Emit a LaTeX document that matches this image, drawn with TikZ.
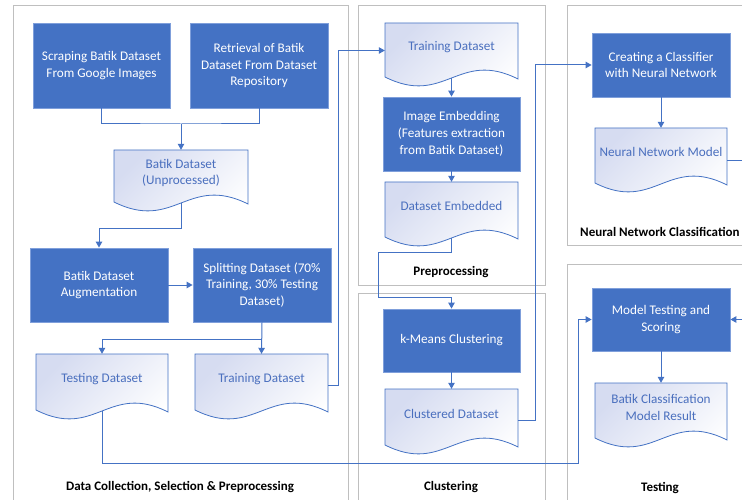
\documentclass[tikz,border=0pt]{standalone}
\usepackage{fontspec}
\setmainfont{Carlito}
\usetikzlibrary{arrows.meta,calc}
\definecolor{boxblue}{HTML}{4472C4}
\definecolor{boxborder}{HTML}{7F9FDB}
\definecolor{linkblue}{HTML}{4472C4}
\definecolor{doctextc}{HTML}{4A6FBE}
\definecolor{doctop}{HTML}{D6DCF1}
\definecolor{panelgrey}{HTML}{BFBFBF}
\tikzset{
  panel/.style={draw=panelgrey, line width=1bp},
  paneltitle/.style={font=\fontsize{13bp}{15bp}\selectfont\bfseries, text=black, inner sep=0pt},
  bluebox/.style={fill=boxblue, draw=boxborder, line width=0.8bp, text=white, align=center, inner sep=0pt,
    font=\fontsize{13.2bp}{16.7bp}\selectfont},
  docarea/.style={draw=none, inner sep=0pt},
  doctext/.style={text=doctextc, align=center, inner sep=0pt, font=\fontsize{13.2bp}{16.7bp}\selectfont},
  docline/.style={draw=linkblue, line width=0.8bp},
  link/.style={draw=linkblue, line width=1bp},
  arr/.style={link, -{Triangle[length=6bp,width=6.5bp]}},
}
% name, x1, y1, x2, y2, text
\newcommand\boxnode[6]{%
  \node[bluebox, minimum width={(#4-#2)*1bp}, minimum height={(#5-#3)*1bp}] (#1) at ({(#2+#4)/2},{(#3+#5)/2}) {#6};
}
% name, x1, y0, x2, H, text
\newcommand\docnode[6]{%
  \shade[top color=doctop, bottom color=white, shading angle=45]
    (#2,#3) -- (#4,#3) -- (#4,{#3+#5+2}) .. controls ({#2+0.55*(#4-#2)},{#3+#5-28}) and ({#2+0.45*(#4-#2)},{#3+#5+30}) .. (#2,{#3+#5}) -- cycle;
  \path[docline]
    (#2,#3) -- (#4,#3) -- (#4,{#3+#5+2}) .. controls ({#2+0.55*(#4-#2)},{#3+#5-28}) and ({#2+0.45*(#4-#2)},{#3+#5+30}) .. (#2,{#3+#5}) -- cycle;
  \node[docarea, minimum width={(#4-#2)*1bp}, minimum height={(#5+1)*1bp}] (#1) at ({(#2+#4)/2},{#3+(#5+1)/2}) {};
  \node[doctext] (#1-txt) at ({(#2+#4)/2},{#3+0.44*#5}) {#6};
}
\begin{document}
\begin{tikzpicture}[x=1bp,y=-1bp]
\useasboundingbox (0,0) rectangle (742,500);
\clip (0,0) rectangle (742,500);
\fill[white] (0,0) rectangle (742,500);

% panels
\draw[panel] (13,6) rectangle (348,520);
\draw[panel] (358,6) rectangle (545,285);
\draw[panel] (358,293) rectangle (545,520);
\draw[panel] (567,6) rectangle (770,246);
\draw[panel] (567,265) rectangle (770,520);
\node[paneltitle] (t1) at (180,487) {Data Collection, Selection \& Preprocessing};
\node[paneltitle] (t2) at (451,272) {Preprocessing};
\node[paneltitle] (t3) at (451,487) {Clustering};
\node[paneltitle, anchor=west] (t4) at (580,232) {Neural Network Classification};
\node[paneltitle] (t5) at (660,488) {Testing};

% boxes
\boxnode{scrape}{33}{23}{170}{108}{Scraping Batik Dataset\\From Google Images}
\boxnode{retr}{190}{23}{328}{108}{Retrieval of Batik\\Dataset From Dataset\\Repository}
\boxnode{aug}{30}{248}{168}{322}{Batik Dataset\\Augmentation}
\boxnode{split}{193}{248}{331}{322}{Splitting Dataset (70\%\\Training, 30\% Testing\\Dataset)}
\boxnode{embed}{383}{97}{520}{171}{Image Embedding\\(Features extraction\\from Batik Dataset)}
\boxnode{kmeans}{383}{309}{520}{372}{k-Means Clustering}
\boxnode{clf}{592}{33}{730}{97}{Creating a Classifier\\with Neural Network}
\boxnode{mtest}{592}{288}{730}{351}{Model Testing and\\Scoring}

% documents
\docnode{batik}{114}{150}{248}{52}{Batik Dataset\\(Unprocessed)}
\docnode{testds}{36}{354}{168}{56}{Testing Dataset}
\docnode{trainds}{195}{354}{328}{56}{Training Dataset}
\docnode{ptrain}{385}{23}{518}{54}{Training Dataset}
\docnode{dsemb}{385}{182}{518}{55}{Dataset Embedded}
\docnode{clust}{385}{389}{518}{56}{Clustered Dataset}
\docnode{nnm}{595}{128}{727}{55}{Neural Network Model}
\docnode{result}{595}{383}{727}{55}{Batik Classification\\Model Result}

% junction coordinates
\coordinate (j1) at (181,124);
\coordinate (j2) at (99,229);
\coordinate (j3) at (262,339);
\coordinate (j4) at (338,0);
\coordinate (j5) at (378,253);
\coordinate (j6) at (451.5,297);
\coordinate (j7) at (535,0);
\coordinate (j8) at (578,463);
\coordinate (nnout) at (760,161);
\coordinate (mtin) at (760,319.5);

% connectors
\draw[link] (scrape.south) |- (j1) -| (retr.south);
\draw[arr] (j1) -- (batik.north);
\draw[arr] (batik.south) |- (j2) -- (aug.north);
\draw[arr] (aug.east) -- (split.west);
\draw[arr] (split.south) -- (trainds.north);
\draw[arr] (j3) -| (testds.north);
\draw[arr] ($(trainds.east)+(0,3)$) -| (j4 |- ptrain.west) -- (ptrain.west);
\draw[arr] (ptrain.south) -- (embed.north);
\draw[arr] (embed.south) -- (dsemb.north);
\draw[arr] (dsemb.south) |- (j5) |- (j6) -- (kmeans.north);
\draw[arr] (kmeans.south) -- (clust.north);
\draw[arr] ($(clust.east)+(0,3)$) -| (j7 |- clf.west) -- (clf.west);
\draw[arr] (clf.south) -- (nnm.north);
\draw[link] (nnm.east |- nnout) -- (nnout);
\draw[arr] (mtin) -- (mtest.east);
\draw[arr] (mtest.south) -- (result.north);
\draw[arr] (testds.south) |- (j8) |- (mtest.west);
\end{tikzpicture}
\end{document}
